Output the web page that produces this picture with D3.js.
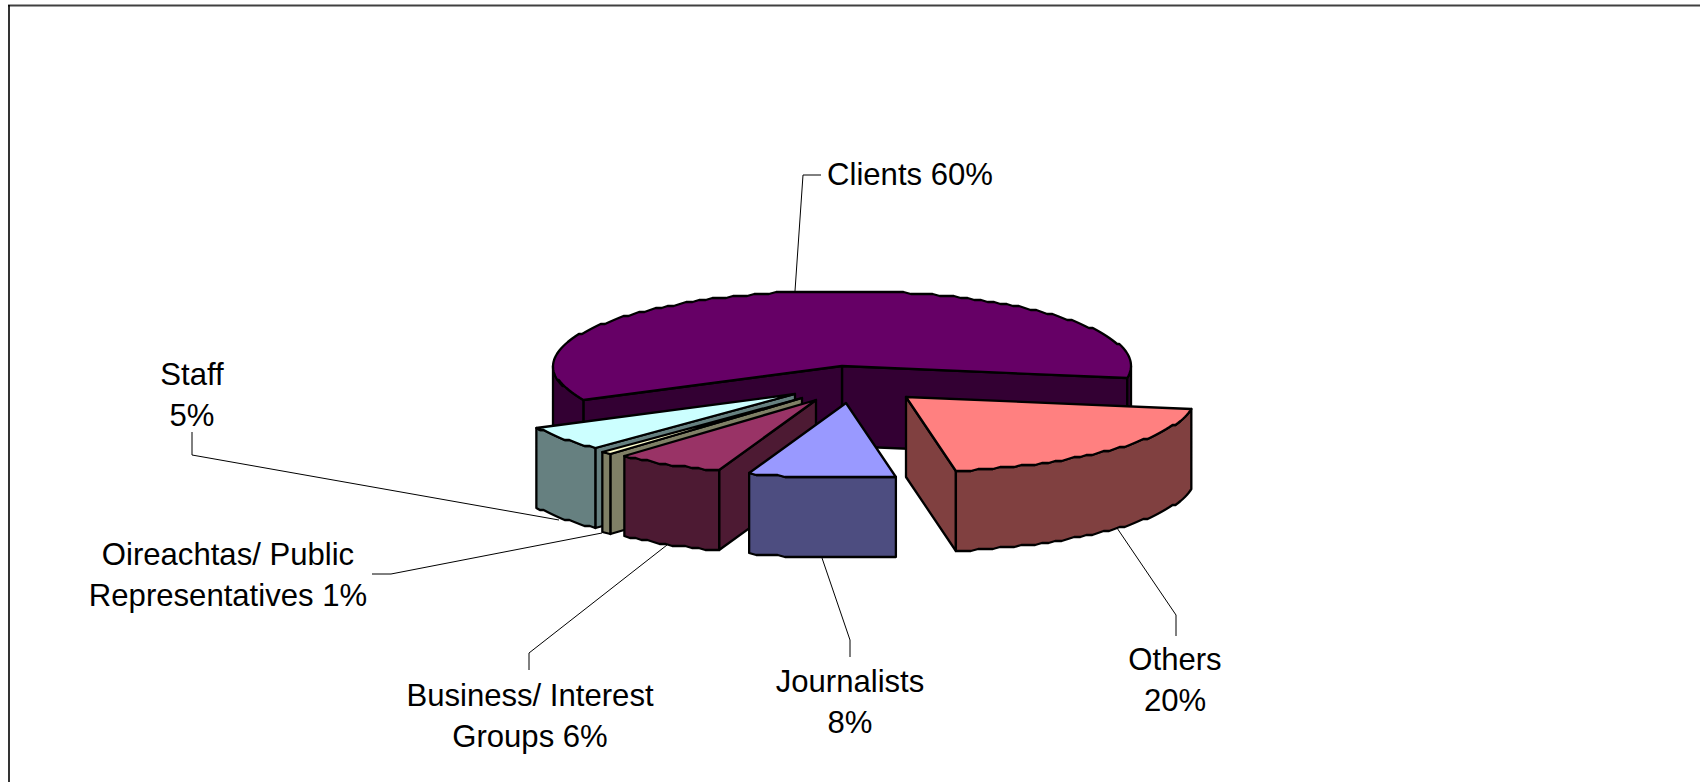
<!DOCTYPE html>
<html>
<head>
<meta charset="utf-8">
<title>Pie</title>
<script src="https://cdn.jsdelivr.net/npm/d3@7"></script>
<style>
  html, body { margin: 0; padding: 0; background: #fff; }
  svg { display: block; }
  text { font-family: "Liberation Sans", Arial, sans-serif; font-size: 31.1px; fill: #000; }
</style>
</head>
<body>
<div id="chart"></div>
<script>
////////////////////////////////////////////////////////////////////////
// Data

const categories = ["Clients", "Others", "Journalists", "Business/ Interest Groups", "Oireachtas/ Public Representatives", "Staff"];
// the labels show them rounded
const percents = [59.9, 19.7, 8.2, 6.1, 0.6, 5.5];
const colors = ["#660066", "#ff8080", "#9999ff", "#993366", "#ffffcc", "#ccffff"];

// label lines, one inner array per category
const labelLines = [
  ["Clients 60%"],
  ["Others", "20%"],
  ["Journalists", "8%"],
  ["Business/ Interest", "Groups 6%"],
  ["Oireachtas/ Public", "Representatives 1%"],
  ["Staff", "5%"]
];

////////////////////////////////////////////////////////////////////////
// Layout (not data)

const width = 1700;
const height = 782;
const cx = 842, cy = 366, rx = 289, ry = 75, depth = 80;
const rotation = -116.5;                 // degrees, clockwise from north

// how far each slice is pulled away from the pie, on screen
const explodeX = [0, 64, 4, -26, -40, -47];
const explodeY = [0, 31, 37, 34, 32, 28];

const labelX = [910, 1175, 850, 530, 228, 192];
const labelY = [185, 670, 692, 706, 565, 385];
const lineGap = 40.5;

const leaders = [
  [[795, 291], [803, 175], [821, 175]],
  [[1117, 528], [1176, 615], [1176, 636]],
  [[822, 558], [850, 640], [850, 657]],
  [[667, 545], [529, 653], [529, 670]],
  [[602, 533], [391, 574], [372, 574]],
  [[559, 520], [192, 455], [192, 432]]
];

////////////////////////////////////////////////////////////////////////

const svg = d3.select("#chart").append("svg")
  .attr("width", width)
  .attr("height", height);

// frame, only the top and left sides are on the page
svg.append("line").attr("x1", 8).attr("y1", 5.5).attr("x2", width).attr("y2", 5.5)
  .attr("stroke", "#404040").attr("stroke-width", 2);
svg.append("line").attr("x1", 9).attr("y1", 5).attr("x2", 9).attr("y2", height)
  .attr("stroke", "#000").attr("stroke-width", 1.6);

const toRad = Math.PI / 180;
const pie = d3.pie().sort(null)
  .startAngle(rotation * toRad)
  .endAngle((rotation + 360) * toRad);
const slices = pie(percents);

const path = d3.line().curve(d3.curveLinear);

// the pie was rendered with coarse coordinates, its rims are a bit stepped
const snap = v => Math.round(v / 2) * 2;

function rim(a, i) {
  return [rx * Math.sin(a) + cx + explodeX[i], snap(-ry * Math.cos(a)) + cy + explodeY[i]];
}

function arcPoints(a0, a1, i) {
  const n = Math.max(1, Math.round((a1 - a0) / (1.5 * toRad)));
  return d3.range(n + 1).map(k => rim(a0 + (a1 - a0) * k / n, i));
}

const drop = p => [p[0], p[1] + depth];

function drawPoly(points, fill) {
  svg.append("path")
    .attr("d", path(points) + "Z")
    .attr("fill", fill)
    .attr("stroke", "#000")
    .attr("stroke-width", 2.3)
    .attr("stroke-linejoin", "round");
}

function sideColor(c) {
  const rgb = d3.rgb(c);
  return d3.rgb(rgb.r / 2, rgb.g / 2, rgb.b / 2).formatHex();
}

// Back to front
const drawOrder = [0, 5, 4, 3, 1, 2];

drawOrder.forEach(i => {
  const d = slices[i];
  const apex = [cx + explodeX[i], cy + explodeY[i]];
  const side = sideColor(colors[i]);
  const a0 = d.startAngle, a1 = d.endAngle;

  // cut faces, drawn only if they look towards the viewer
  if (Math.sin(a1) > 0) {
    const p = rim(a1, i);
    drawPoly([apex, p, drop(p), drop(apex)], side);
  }
  if (Math.sin(a0) < 0) {
    const p = rim(a0, i);
    drawPoly([apex, p, drop(p), drop(apex)], side);
  }

  // outer wall: only the front half of the circle shows
  [[90, 270], [-270, -90]].forEach(([lo, hi]) => {
    const w0 = Math.max(a0, lo * toRad), w1 = Math.min(a1, hi * toRad);
    if (w1 > w0) {
      const top = arcPoints(w0, w1, i);
      drawPoly(top.concat(top.map(drop).reverse()), side);
    }
  });

  // top face
  drawPoly([apex].concat(arcPoints(a0, a1, i)), colors[i]);
});

// Leader lines
svg.append("g").selectAll("path")
  .data(leaders)
  .enter().append("path")
  .attr("d", d => path(d))
  .attr("fill", "none")
  .attr("stroke", "#000")
  .attr("stroke-width", 1);

// Labels
categories.forEach((name, i) => {
  const label = svg.append("text")
    .attr("class", "label")
    .attr("text-anchor", "middle")
    .attr("y", labelY[i]);
  labelLines[i].forEach((line, k) => {
    label.append("tspan")
      .attr("x", labelX[i])
      .attr("y", labelY[i] + k * lineGap)
      .text(line);
  });
});
</script>
</body>
</html>
